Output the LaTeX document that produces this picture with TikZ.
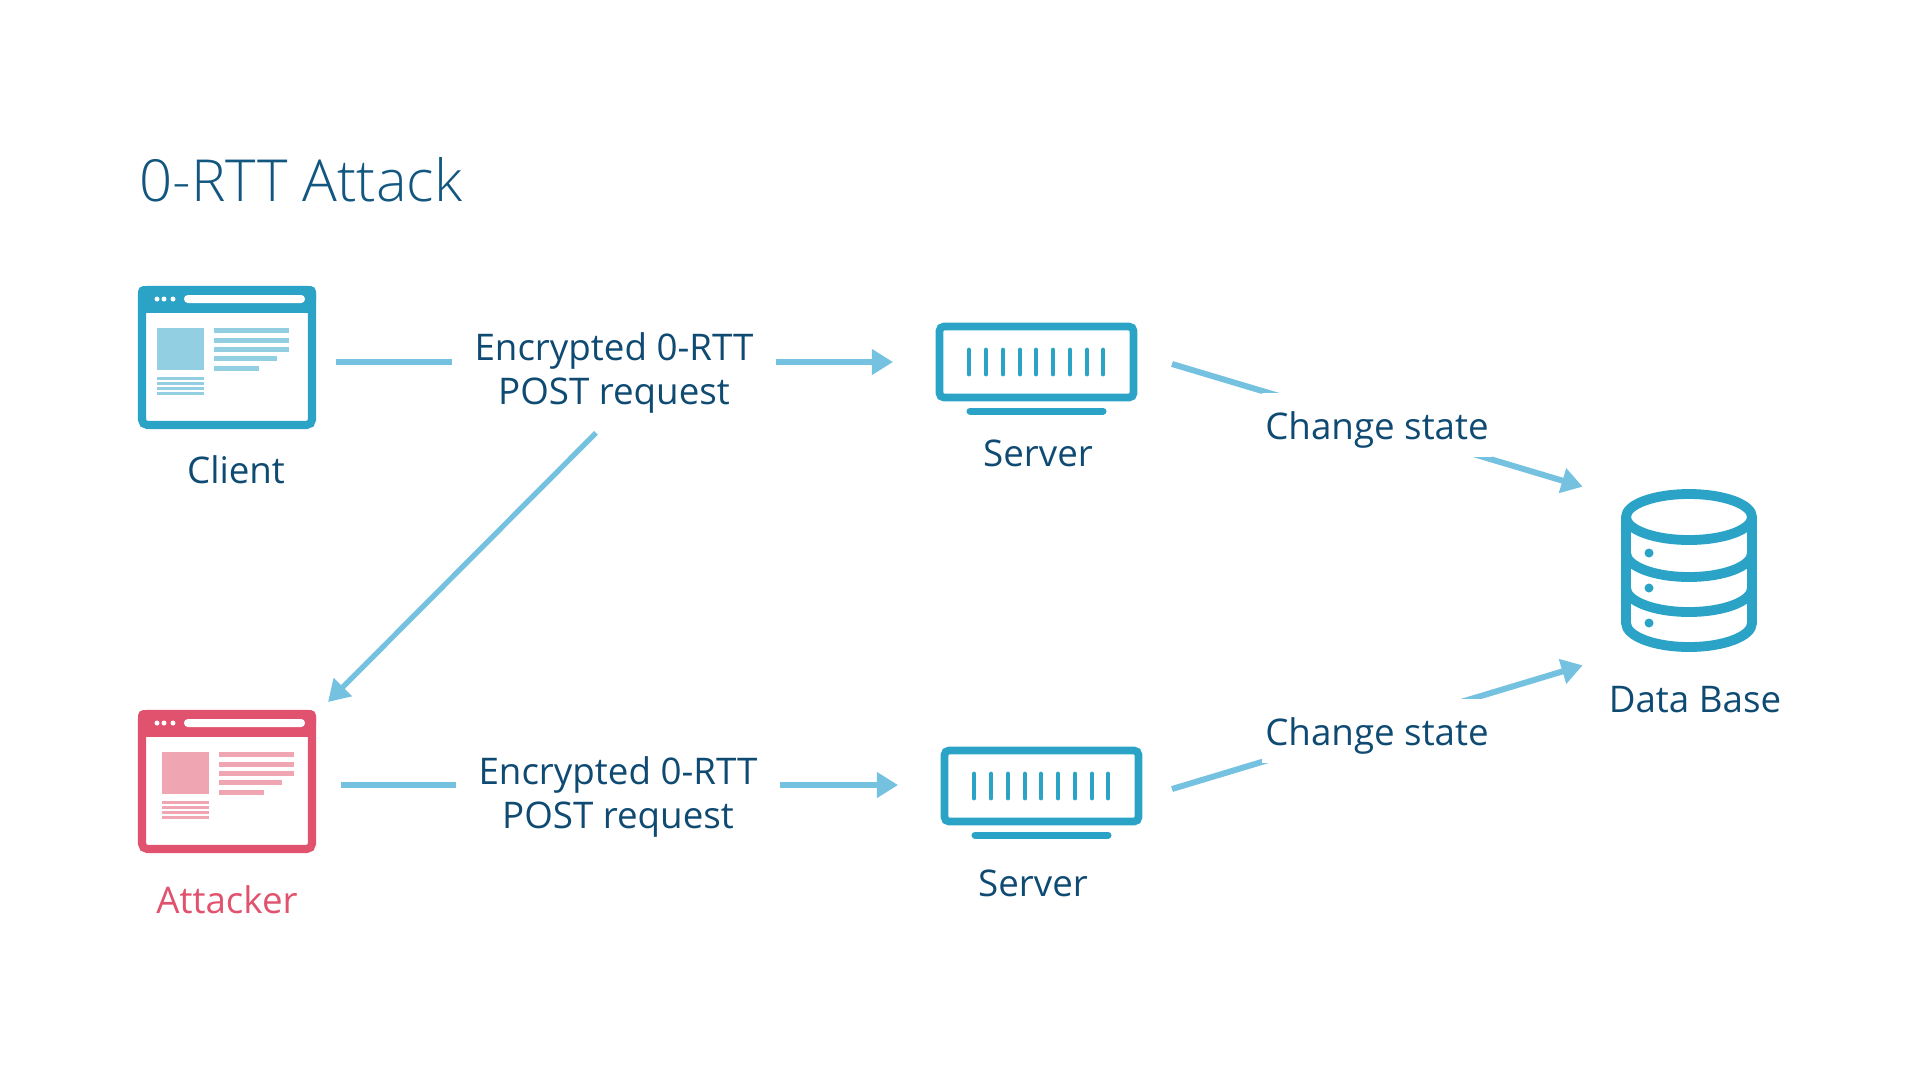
\documentclass[tikz,border=0pt]{standalone}
\usepackage{fontspec}
\setmainfont{Open Sans}
\newfontfamily\titlefont{Open Sans Light}
\usetikzlibrary{arrows.meta, positioning, calc}

\definecolor{framecol}{HTML}{2BA3C6}
\definecolor{framesoft}{HTML}{92CFE3}
\definecolor{redcol}{HTML}{E0526D}
\definecolor{redsoft}{HTML}{EFA5B2}
\definecolor{linecol}{HTML}{74C1E0}
\definecolor{textcol}{HTML}{0F4A73}

\tikzset{
    x=0.02cm, y=-0.02cm,
    txt/.style={font=\fontsize{20.9}{24.7}\selectfont, text=textcol, align=center, inner sep=0pt},
    reqlabel/.style={txt, fill=white, minimum width=6.48cm, minimum height=1.9cm},
    statelabel/.style={txt, fill=white, minimum width=4.6cm, minimum height=1.29cm, text height=21pt, text depth=5pt},
    link/.style={draw=linecol, line width=3.4pt, -{Triangle[length=12pt,width=14pt]}}
}

% browser window: name, left, top, colour, soft colour, content shift
\newcommand{\browser}[6]{
    \begin{scope}[shift={(#2,#3)}]
        \node[inner sep=0pt, minimum width=3.4cm, minimum height=2.7cm, outer sep=0.48cm] (#1) at (89,71.5) {};
        \node[draw=#4, line width=4.6pt, rounded corners=3pt, minimum width=3.4cm, minimum height=2.7cm, inner sep=0pt] (#1frame) at (89,71.5) {};
        \fill[#4, rounded corners=3pt] (0,0) rectangle (178,20);
        \fill[#4] (0,12) rectangle (178,27);
        \foreach \dotx in {19,26,35} \fill[white] (\dotx,13) circle (2.5);
        \fill[white, rounded corners=2.2pt] (46,9) rectangle (167,17);
        \fill[#5] (19+#6,42) rectangle (66+#6,84);
        \foreach \bary/\barx in {44/151,54/151,63/151,72/139,82/121}
            \fill[#5] (76+#6,\bary-2.5) rectangle (\barx+#6,\bary+2.5);
        \foreach \bary in {92,97,102,107}
            \fill[#5] (19+#6,\bary-1.5) rectangle (66+#6,\bary+1.5);
    \end{scope}
}
% rack server: name, left, top
\newcommand{\server}[3]{
    \begin{scope}[shift={(#2,#3)}]
        \node[minimum width=3.88cm, minimum height=1.42cm, inner sep=0pt, outer sep=0.93cm] (#1) at (100.5,39) {};
        \node[draw=framecol, line width=4.4pt, rounded corners=2.5pt, minimum width=3.88cm, minimum height=1.42cm, inner sep=0pt] (#1frame) at (100.5,39) {};
        \foreach \tickx in {33,50,67,84,100,117,134,151,167}
            \draw[framecol, line width=2.8pt, line cap=round] (\tickx,27) -- (\tickx,51);
        \draw[framecol, line width=4pt, line cap=round] (34,88) -- (167,88);
    \end{scope}
}

\begin{document}
\begin{tikzpicture}
    \useasboundingbox (0,0) rectangle (1920,1080);

    \node[txt, anchor=west, font=\titlefont\fontsize{33}{38}\selectfont, text=textcol!85!framecol] (title) at (139,180) {0-RTT Attack};

    \browser{client}{138}{286}{framecol}{framesoft}{0}
    \browser{attacker}{138}{710}{redcol}{redsoft}{5}
    \server{srvtop}{936}{323}
    \server{srvbot}{941}{747}

    % database cylinder
    \node[minimum width=4.24cm, minimum height=3.56cm, inner sep=0pt] (db) at (1689,576) {};
    \draw[framecol, line width=5.6pt] (1689,517) ellipse [x radius=63, y radius=23];
    \draw[framecol, line width=5.6pt] (1626,517) -- (1626,623) arc[start angle=180, end angle=0, x radius=63, y radius=24] -- (1752,517);
    \foreach \banda in {553,588}
        \draw[framecol, line width=5.6pt] (1626,\banda) arc[start angle=180, end angle=0, x radius=63, y radius=24];
    \foreach \doty in {553,588,623} \fill[framecol] (1649,\doty) circle (4.5);

    \node[txt] (clientlbl) at (236,470) {Client};
    \node[txt, text=redcol] (attackerlbl) at (227,900) {Attacker};
    \node[txt] (srvtoplbl) at (1038,453) {Server};
    \node[txt] (srvbotlbl) at (1033,883) {Server};
    \node[txt] (dblbl) at (1695,700) {Data Base};

    \coordinate (srvout1) at (1172,364);
    \coordinate (srvout2) at (1172,789);
    \coordinate (attackerin) at (328,702);

    % the labels sit on top of their connectors and hide the middle part
    \draw[link] (client.east |- 0,362) -- (srvtop.west |- 0,362);
    \draw[link, shorten <=2.8pt] (attacker.east |- 0,785) -- (srvbot.west |- 0,785);
    \node[reqlabel] (req1) at (614,373) {Encrypted 0-RTT\\POST request};
    \node[reqlabel] (req2) at (618,797) {Encrypted 0-RTT\\POST request};

    \draw[link, line width=3pt] ($(req1.south)+(-18,12)$) -- (attackerin);

    \draw[link] (srvout1) -- (db.north west);
    \draw[link] (srvout2) -- (db.south west);
    \node[statelabel] (state1) at (1377,425) {Change state};
    \node[statelabel] (state2) at (1377,731) {Change state};
\end{tikzpicture}
\end{document}
